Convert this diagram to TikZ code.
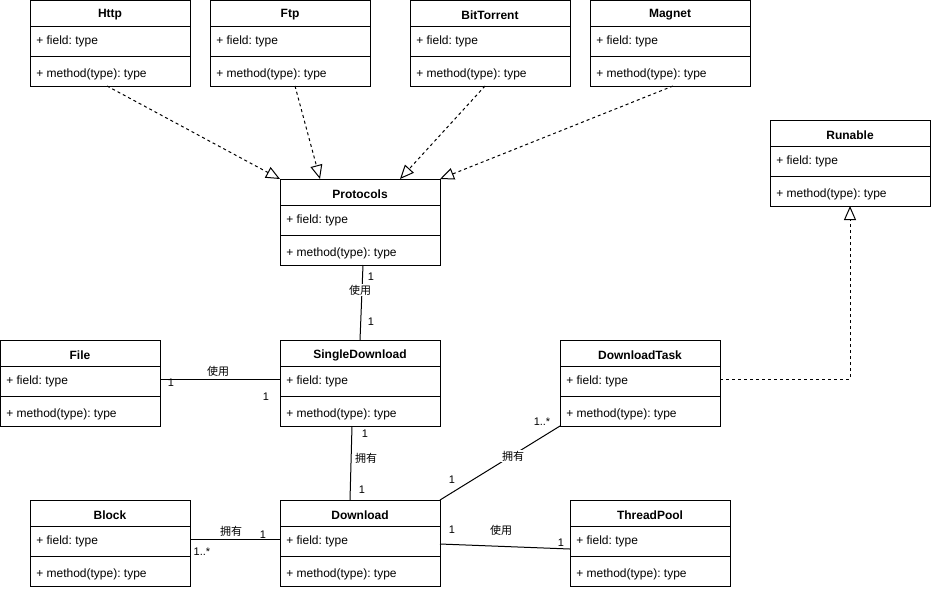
\documentclass[tikz,border=0pt]{standalone}
\usepackage{fontspec}
\setmainfont{Liberation Sans}
\newfontfamily\cjk{Noto Sans CJK SC}
\usetikzlibrary{arrows.meta,calc}
\frenchspacing

% one UML class: name, top-left corner (px), title
\newcommand{\umlclass}[3]{%
  \node[classbox] (#1) at (#2) {};
  \node[classtitle] (#1-t) at ($(#1.north)+(0,15)$) {#3};
  \draw[assoc] ($(#1.north west)+(0,26)$) -- ($(#1.north east)+(0,26)$);
  \draw[assoc] ($(#1.north west)+(0,56)$) -- ($(#1.north east)+(0,56)$);
  \node[member] (#1-f) at ($(#1.north west)+(6,41)$) {+ field: type};
  \node[member] (#1-m) at ($(#1.north west)+(6,74)$) {+ method(type): type};
}

\tikzset{
  classbox/.style={draw,line width=0.75pt,minimum width=120pt,minimum height=64.5pt,
    inner sep=0pt,outer sep=0pt,anchor=north west},
  classtitle/.style={font=\fontsize{9}{10}\selectfont\bfseries,inner sep=0pt},
  member/.style={font=\fontsize{9}{10}\selectfont,anchor=west,inner sep=0pt},
  lbl/.style={font=\fontsize{8.25}{9}\selectfont,inner sep=0.5pt},
  cjklbl/.style={lbl,font=\cjk\fontsize{8.25}{9}\selectfont,fill=white},
  assoc/.style={line width=0.75pt},
  realize/.style={line width=0.75pt,dash pattern=on 2.25pt off 2.25pt,
    -{Triangle[open,length=10.5pt,width=9pt]}}
}

\begin{document}
\begin{tikzpicture}[x=0.75pt,y=-0.75pt]
\useasboundingbox (0,0) rectangle (931,590);

% classes
\umlclass{http}{30,0}{Http}
\umlclass{ftp}{210,0}{Ftp}
\umlclass{bt}{410,0}{BitTorrent}
\umlclass{mag}{590,0}{Magnet}
\umlclass{run}{770,120}{Runable}
\umlclass{proto}{280,179}{Protocols}
\umlclass{file}{0,340}{File}
\umlclass{sd}{280,340}{SingleDownload}
\umlclass{dtask}{560,340}{DownloadTask}
\umlclass{block}{30,500}{Block}
\umlclass{dl}{280,500}{Download}
\umlclass{tp}{570,500}{ThreadPool}

% realizations
\draw[realize] ($(http.south)+(-3,0)$) -- (proto.north west);
\draw[realize] ($(ftp.south)+(5,0)$) -- ($(proto.north)+(-40,0)$);
\draw[realize] ($(bt.south)+(-5,0)$) -- ($(proto.north)+(40,0)$);
\draw[realize] ($(mag.south)+(3,0)$) -- (proto.north east);
\draw[realize] ($(dtask.north east)+(0,39)$) -| (run.south);

% associations
\draw[assoc] ($(proto.south)+(3,0)$) -- (sd.north);
\node[lbl] (l1) at (371,277) {1};
\node[cjklbl] (l2) at (360,290) {使用};
\node[lbl] (l3) at (371,322) {1};

\draw[assoc] ($(file.north east)+(0,39)$) -- ($(sd.north west)+(0,39)$);
\node[lbl] (l4) at (171,383) {1};
\node[cjklbl] (l5) at (218,371) {使用};
\node[lbl] (l6) at (266,397) {1};

\draw[assoc] ($(sd.south)+(-8,0)$) -- ($(dl.north)+(-10,0)$);
\node[lbl] (l7) at (365,434) {1};
\node[cjklbl] (l8) at (366,458) {拥有};
\node[lbl] (l9) at (362,490) {1};

\draw[assoc] ($(block.north east)+(0,39)$) -- ($(dl.north west)+(0,39)$);
\node[cjklbl] (l10) at (231,531) {拥有};
\node[lbl,fill=white] (l11) at (263,535) {1};
\node[lbl] (l12) at (202,552) {1..*};

\draw[assoc] (dl.north east) -- (dtask.south west);
\node[lbl] (l13) at (452,480) {1};
\node[cjklbl] (l14) at (513,456) {拥有};
\node[lbl] (l15) at (542,422) {1..*};

\draw[assoc] ($(dl.north east)+(0,44)$) -- ($(tp.north west)+(0,49)$);
\node[lbl] (l16) at (452,530) {1};
\node[cjklbl] (l17) at (501,530) {使用};
\node[lbl] (l18) at (561,543) {1};
\end{tikzpicture}
\end{document}
